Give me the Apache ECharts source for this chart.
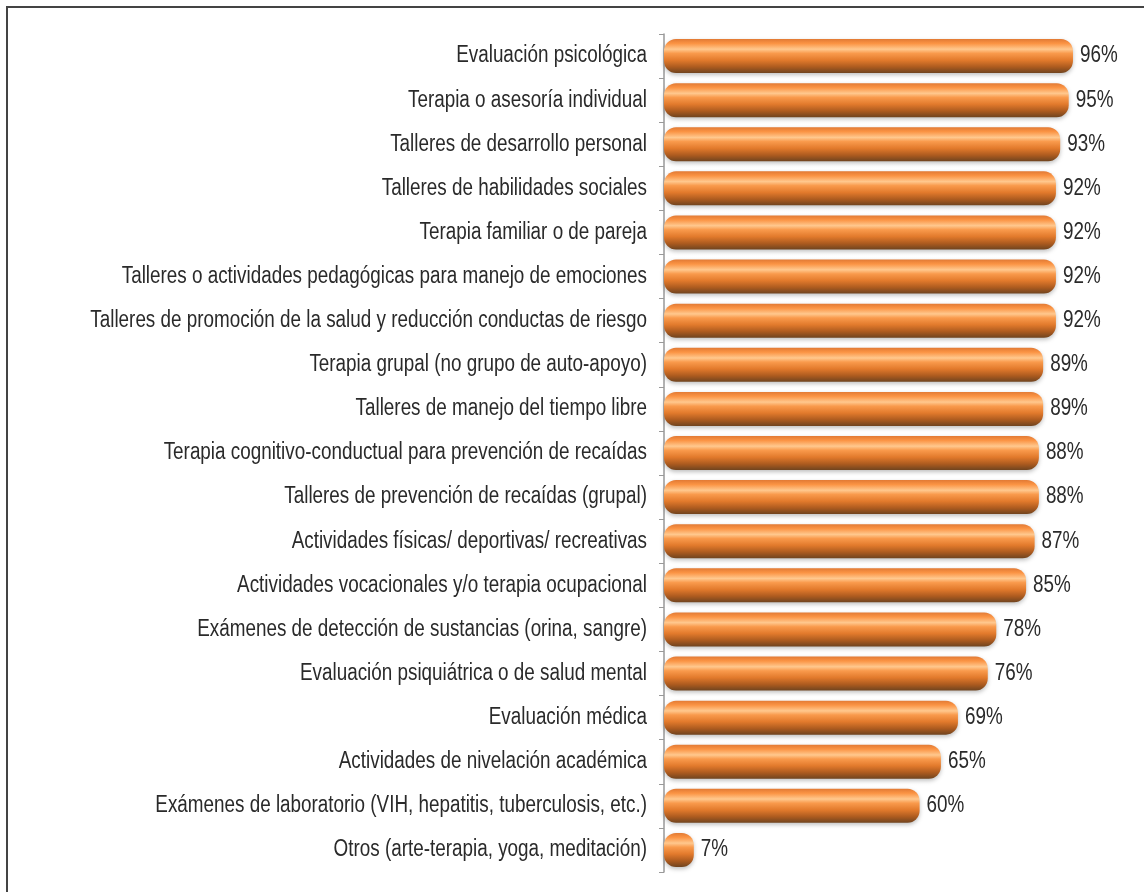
<!DOCTYPE html>
<html><head><meta charset="utf-8">
<script src="https://cdn.jsdelivr.net/npm/echarts@6/dist/echarts.min.js"></script>
<style>html,body{margin:0;padding:0;background:#fff}#c{width:1144px;height:892px}</style>
</head><body><div id="c"></div>
<script>
const categories = [
  "Evaluación psicológica",
  "Terapia o asesoría individual",
  "Talleres de desarrollo personal",
  "Talleres de habilidades sociales",
  "Terapia familiar o de pareja",
  "Talleres o actividades pedagógicas para manejo de emociones",
  "Talleres de promoción de la salud y reducción conductas de riesgo",
  "Terapia grupal (no grupo de auto-apoyo)",
  "Talleres de manejo del tiempo libre",
  "Terapia cognitivo-conductual para prevención de recaídas",
  "Talleres de prevención de recaídas (grupal)",
  "Actividades físicas/ deportivas/ recreativas",
  "Actividades vocacionales y/o terapia ocupacional",
  "Exámenes de detección de sustancias (orina, sangre)",
  "Evaluación psiquiátrica o de salud mental",
  "Evaluación médica",
  "Actividades de nivelación académica",
  "Exámenes de laboratorio (VIH, hepatitis, tuberculosis, etc.)",
  "Otros (arte-terapia, yoga, meditación)"
];
const values = [96, 95, 93, 92, 92, 92, 92, 89, 89, 88, 88, 87, 85, 78, 76, 69, 65, 60, 7];

const FONT = "'Liberation Sans Narrow', 'Liberation Sans', Arial, sans-serif";
const FS = 23;
const SX = 0.82;
const TXT = '#2a2a2a';
const chart = echarts.init(document.getElementById('c'));
const barColor = new echarts.graphic.LinearGradient(0, 0, 0, 1, [
  {offset: 0, color: '#e27a34'},
  {offset: 0.13, color: '#fb9444'},
  {offset: 0.3, color: '#ffc88e'},
  {offset: 0.42, color: '#f99a4c'},
  {offset: 0.62, color: '#e27a2c'},
  {offset: 0.82, color: '#ad5b1f'},
  {offset: 1, color: '#70441f'}
]);
chart.setOption({
  animation: false,
  backgroundColor: '#fff',
  grid: {left: 664, top: 34, width: 426, height: 838, containLabel: false},
  xAxis: {type: 'value', min: 0, max: 100, show: false},
  yAxis: {
    type: 'category', data: categories, inverse: true,
    axisLine: {show: true, lineStyle: {color: '#999', width: 1.5}},
    axisTick: {show: true, length: 5, lineStyle: {color: '#999'}},
    axisLabel: {show: false}
  },
  series: [{
    type: 'bar', data: values, barWidth: 34,
    itemStyle: {color: barColor, borderRadius: 12, shadowColor: 'rgba(0,0,0,0.25)', shadowBlur: 4, shadowOffsetY: 2}
  }, {
    type: 'custom', silent: true,
    data: categories.map((c, i) => [0, i]),
    renderItem: function (params, api) {
      const i = api.value(1);
      const p = api.coord([0, i]);
      return {type: 'text', x: p[0] - 17, y: p[1], scaleX: SX,
        style: {text: categories[i], align: 'right', verticalAlign: 'middle', fontFamily: FONT, fontSize: FS, fill: TXT}};
    }
  }, {
    type: 'custom', silent: true,
    data: values.map((v, i) => [v, i]),
    renderItem: function (params, api) {
      const v = api.value(0), i = api.value(1);
      const p = api.coord([v, i]);
      return {type: 'text', x: Math.max(p[0], api.coord([0, i])[0] + 24) + 7, y: p[1], scaleX: SX,
        style: {text: v + '%', align: 'left', verticalAlign: 'middle', fontFamily: FONT, fontSize: FS, fill: TXT}};
    }
  }],
  graphic: [
    {type: 'polyline', shape: {points: [[7, 892], [7, 7], [1144, 7]]}, style: {stroke: '#444', lineWidth: 2, fill: null}}
  ]
});
</script></body></html>
